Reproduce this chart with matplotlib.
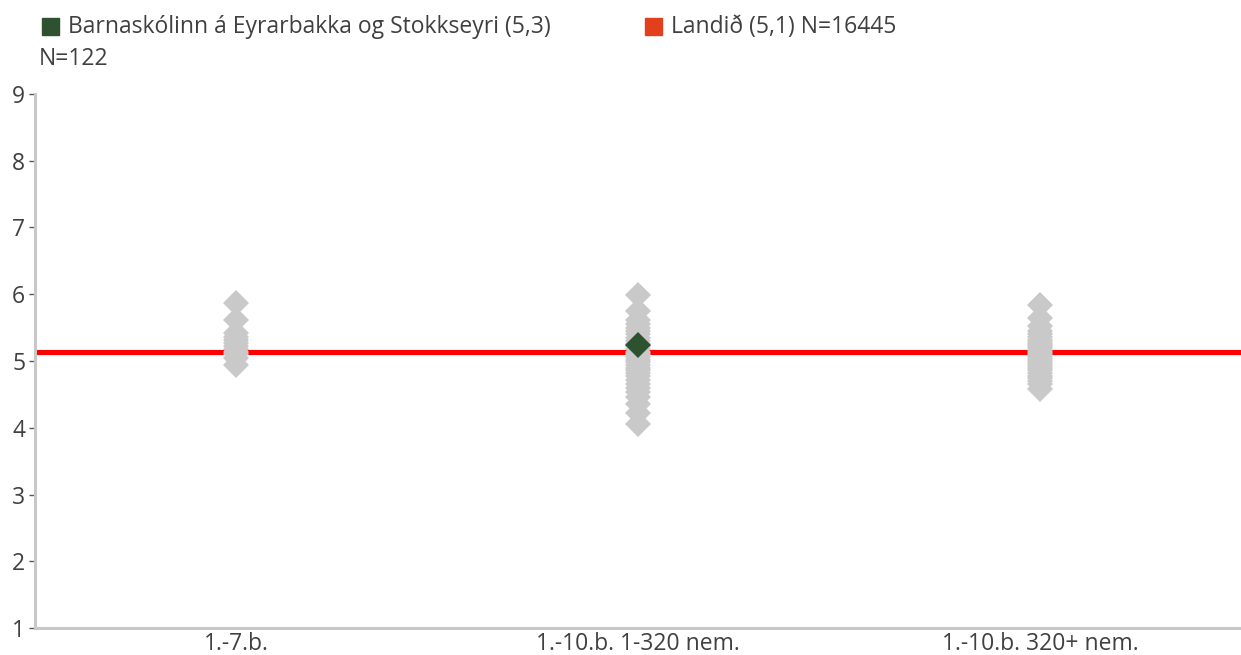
import numpy as np
import matplotlib
matplotlib.use("Agg")
import matplotlib.pyplot as plt
from matplotlib.patches import Rectangle

plt.rcParams["font.family"] = ["Open Sans", "DejaVu Sans"]

# ── Data ─────────────────────────────────────────────────────────
categories = ["1.-7.b.", "1.-10.b. 1-320 nem.", "1.-10.b. 320+ nem."]

schools_cat1 = [5.87, 5.62, 5.42, 5.36, 5.31, 5.27, 5.22, 5.18, 5.14, 5.10, 5.04, 4.94]
schools_cat2 = [5.99, 5.75, 5.62, 5.55, 5.50, 5.45, 5.40, 5.35, 5.30, 5.26, 5.22,
                5.18, 5.14, 5.10, 5.06, 5.02, 4.98, 4.94, 4.90, 4.86, 4.82, 4.77,
                4.72, 4.66, 4.60, 4.54, 4.46, 4.36, 4.22, 4.06]
schools_cat3 = [5.84, 5.64, 5.52, 5.45, 5.40, 5.36, 5.32, 5.29, 5.26, 5.23, 5.20,
                5.17, 5.14, 5.11, 5.08, 5.05, 5.02, 4.99, 4.96, 4.93, 4.90, 4.86,
                4.82, 4.78, 4.74, 4.70, 4.65, 4.58]

school_name = "Barnaskólinn á Eyrarbakka og Stokkseyri (5,3)"
school_n = "N=122"
school_cat = 1
school_value = 5.24

national_label = "Landið (5,1) N=16445"
national_value = 5.135

y_ticks = [1, 2, 3, 4, 5, 6, 7, 8, 9]

# ── Figure ───────────────────────────────────────────────────────
fig = plt.figure(figsize=(12.41, 6.55), dpi=100)
ax = fig.add_axes([0.0282, 0.0412, 0.9718, 0.8153])

ax.axhline(national_value, color="#ff0000", linewidth=3.7, zorder=1)

gray = "#c9c9c9"
for i, vals in enumerate([schools_cat1, schools_cat2, schools_cat3]):
    ax.plot([i] * len(vals), vals, linestyle="none", marker="D",
            markersize=13.3, color=gray, markeredgewidth=0, zorder=2)

ax.plot([school_cat], [school_value], linestyle="none", marker="D",
        markersize=13.5, color="#2e5230", markeredgewidth=0, zorder=3)

ax.set_xlim(-0.5, 2.5)
ax.set_ylim(1, 9)
ax.set_yticks(y_ticks)
ax.set_xticks(range(len(categories)))
ax.set_xticklabels(categories)

for s in ["top", "right"]:
    ax.spines[s].set_visible(False)
for s in ["left", "bottom"]:
    ax.spines[s].set_color("#c8c8c8")
    ax.spines[s].set_linewidth(2.2)

fs = 16.5
ax.tick_params(axis="y", length=4, width=1, color="#595959", labelsize=fs,
               labelcolor="#404040", pad=3)
ax.tick_params(axis="x", length=0, labelsize=fs, labelcolor="#404040", pad=3)

# ── Legend (Excel-style, wrapped) ────────────────────────────────
fig.patches.append(Rectangle((42 / 1241, 1 - 35 / 655), 17 / 1241, 17 / 655,
                             transform=fig.transFigure, color="#2e5230"))
fig.text(68 / 1241, 1 - 27 / 655, school_name, fontsize=fs, color="#404040",
         va="center", ha="left")
fig.text(39 / 1241, 1 - 59 / 655, school_n, fontsize=fs, color="#404040",
         va="center", ha="left")
fig.patches.append(Rectangle((645 / 1241, 1 - 35 / 655), 17 / 1241, 17 / 655,
                             transform=fig.transFigure, color="#e2401c"))
fig.text(671 / 1241, 1 - 27 / 655, national_label, fontsize=fs,
         color="#404040", va="center", ha="left")

fig.savefig("out.png", dpi=100)
